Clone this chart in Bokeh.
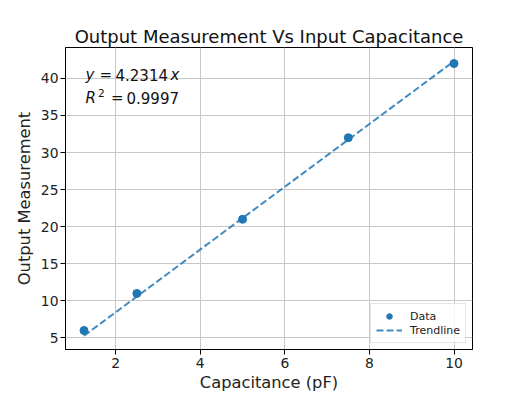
from bokeh.plotting import figure
from bokeh.models import Range1d, Label, Legend, LegendItem, FixedTicker
from bokeh.embed import file_html
from bokeh.resources import INLINE

# Data
capacitance = [1.25, 2.5, 5.0, 7.5, 10.0]
output = [6, 11, 21, 32, 42]
slope = 4.2314
r2 = 0.9997
x_ticks = [2, 4, 6, 8, 10]
y_ticks = [5, 10, 15, 20, 25, 30, 35, 40]

trend_x = [capacitance[0], capacitance[-1]]
trend_y = [slope * v for v in trend_x]

# matplotlib-like 5% margins
def pad(lo, hi, f=0.05):
    s = hi - lo
    return lo - f * s, hi + f * s

x0, x1 = pad(min(capacitance), max(capacitance))
ally = output + trend_y
y0, y1 = pad(min(ally), max(ally))

W, H = 513, 395
BL, BT = 65, 47
BR = W - 472
BB = H - 349
FW = W - BL - BR
FH = H - BT - BB

p = figure(width=W, height=H, x_range=Range1d(x0, x1), y_range=Range1d(y0, y1),
           output_backend="svg", toolbar_location=None,
           min_border_left=BL, min_border_right=BR, min_border_top=BT, min_border_bottom=BB)

FONT = "DejaVu Sans"
p.title.text = "Output Measurement Vs Input Capacitance"
p.title.align = "center"
p.title.text_font = FONT
p.title.text_font_size = "18px"
p.title.text_font_style = "normal"
p.title.text_color = "#111111"
p.title.standoff = 2

p.outline_line_color = "black"
p.outline_line_width = 1
p.background_fill_color = "white"
p.border_fill_color = "white"

for ax in (p.xaxis[0], p.yaxis[0]):
    ax.major_tick_in = 0
    ax.major_tick_out = 5
    ax.minor_tick_out = 0
    ax.minor_tick_in = 0
    ax.major_tick_line_color = "black"
    ax.axis_line_color = "black"
    ax.major_label_text_font = FONT
    ax.major_label_text_font_size = "13.9px"
    ax.major_label_text_color = "#222222"
    ax.axis_label_text_font = FONT
    ax.axis_label_text_font_size = "16.3px"
    ax.axis_label_text_font_style = "normal"
    ax.axis_label_text_color = "#222222"

p.xaxis.ticker = FixedTicker(ticks=x_ticks)
p.yaxis.ticker = FixedTicker(ticks=y_ticks)
p.xaxis.axis_label = "Capacitance (pF)"
p.yaxis.axis_label = "Output Measurement"
p.xaxis.major_label_standoff = 3
p.xaxis.axis_label_standoff = 2
p.yaxis.major_label_standoff = 2
p.yaxis.axis_label_standoff = 4

p.grid.grid_line_color = "#c8c8c8"
p.grid.grid_line_width = 1
p.xgrid.ticker = FixedTicker(ticks=x_ticks)
p.ygrid.ticker = FixedTicker(ticks=y_ticks)

line_r = p.line(trend_x, trend_y, line_color="#1f77b4", line_alpha=0.85,
                line_width=2, line_dash="7 3")
pts_r = p.scatter(capacitance, output, size=8, fill_color="#1f77b4",
                  line_color="#1f77b4")

legend = Legend(items=[LegendItem(label="Data", renderers=[pts_r]),
                       LegendItem(label="Trendline", renderers=[line_r])],
                location="bottom_right")
legend.label_text_font = FONT
legend.label_text_font_size = "11px"
legend.label_text_color = "#222222"
legend.border_line_color = "#cccccc"
legend.border_line_width = 1
legend.background_fill_alpha = 0.8
legend.margin = 6
legend.padding = 5
legend.spacing = 0
legend.glyph_width = 26
legend.glyph_height = 14
legend.label_height = 14
legend.label_standoff = 8
p.add_layout(legend)

# annotation text (pixel positions -> data coords)
def px2x(fx):
    return x0 + (fx - BL) / FW * (x1 - x0)

def px2y(fy):
    return y1 - (fy - BT) / FH * (y1 - y0)

def lab(fx, fy, txt, style="normal", size="15px"):
    p.add_layout(Label(x=px2x(fx), y=px2y(fy), text=txt, text_font=FONT,
                       text_font_size=size, text_font_style=style,
                       text_color="#111111", text_baseline="alphabetic",
                       text_align="left"))

lab(85, 74, "y", "italic")
lab(99, 74, "=")
lab(115, 74, "%.4f" % slope)
lab(170, 74, "x", "italic")
lab(85, 97.5, "R", "italic")
lab(97.5, 92.5, "2", size="10.5px")
lab(110.5, 97.5, "=")
lab(126, 97.5, "%.4f" % r2)

open("out.html", "w").write(file_html(p, INLINE))
